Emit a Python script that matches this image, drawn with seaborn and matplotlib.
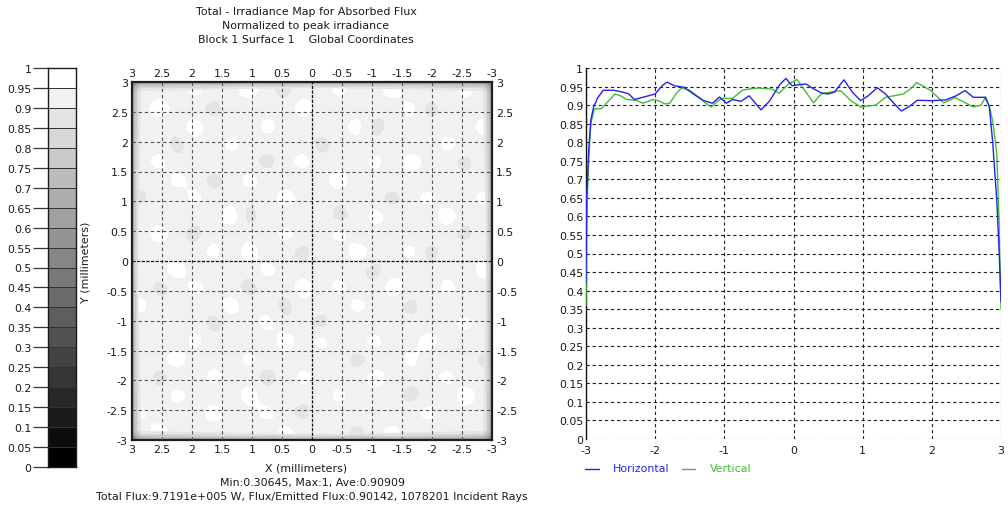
import numpy as np
import pandas as pd
import matplotlib
matplotlib.use("Agg")
import matplotlib.pyplot as plt
import seaborn as sns
from matplotlib.colors import ListedColormap
from matplotlib.lines import Line2D
from matplotlib.ticker import MultipleLocator

sns.set_theme(context="paper", style="white")
plt.rcParams["font.family"] = ["DejaVu Sans"]
plt.rcParams["axes.unicode_minus"] = False

# ---------------- data ----------------
title_lines = ["Total - Irradiance Map for Absorbed Flux",
               "Normalized to peak irradiance",
               "Block 1 Surface 1    Global Coordinates"]
stats_line = "Min:0.30645, Max:1, Ave:0.90909"
flux_line = "Total Flux:9.7191e+005 W, Flux/Emitted Flux:0.90142, 1078201 Incident Rays"

cbar_levels = [0, 0.05, 0.1, 0.15, 0.2, 0.25, 0.3, 0.35, 0.4, 0.45, 0.5,
               0.55, 0.6, 0.65, 0.7, 0.75, 0.8, 0.85, 0.9, 0.95, 1]
cbar_labels = ["1", "0.95", "0.9", "0.85", "0.8", "0.75", "0.7", "0.65", "0.6",
               "0.55", "0.5", "0.45", "0.4", "0.35", "0.3", "0.25", "0.2",
               "0.15", "0.1", "0.05", "0"]

map_ticks = [3, 2.5, 2, 1.5, 1, 0.5, 0, -0.5, -1, -1.5, -2, -2.5, -3]
map_tick_labels = ["3", "2.5", "2", "1.5", "1", "0.5", "0", "-0.5", "-1",
                   "-1.5", "-2", "-2.5", "-3"]

# interior samples of the normalized irradiance map (percent, rows top -> bottom)
map_values = [
    [93, 96, 92, 93, 92, 97, 93, 92, 96, 92, 93, 89, 92, 97, 93, 92, 96, 92, 93, 92],
    [92, 93, 92, 89, 96, 92, 92, 93, 92, 93, 97, 92, 93, 92, 92, 89, 92, 93, 97, 93],
    [97, 92, 93, 92, 93, 92, 89, 96, 93, 92, 92, 93, 96, 92, 93, 92, 97, 92, 92, 93],
    [92, 93, 96, 92, 92, 93, 92, 93, 92, 89, 93, 92, 92, 93, 96, 92, 93, 89, 93, 92],
    [93, 89, 92, 93, 97, 92, 96, 92, 93, 92, 96, 93, 89, 92, 92, 93, 92, 92, 96, 93],
    [92, 92, 93, 92, 92, 93, 92, 92, 97, 93, 92, 92, 93, 96, 92, 89, 93, 96, 92, 92],
    [96, 93, 92, 96, 93, 89, 92, 93, 92, 92, 93, 97, 92, 92, 93, 92, 96, 92, 93, 89],
    [92, 92, 97, 92, 92, 93, 96, 92, 89, 93, 92, 92, 93, 89, 97, 92, 92, 93, 92, 93],
    [93, 89, 92, 93, 92, 92, 93, 92, 96, 92, 93, 96, 92, 93, 92, 93, 89, 92, 97, 92],
    [92, 93, 92, 89, 96, 92, 93, 97, 92, 93, 89, 92, 92, 97, 92, 96, 92, 93, 92, 93],
    [97, 92, 93, 92, 92, 93, 89, 92, 93, 92, 92, 93, 96, 92, 93, 92, 92, 97, 93, 92],
    [92, 93, 96, 92, 93, 97, 92, 92, 96, 93, 97, 92, 92, 89, 92, 93, 96, 92, 89, 93],
    [93, 92, 92, 93, 89, 92, 93, 96, 92, 92, 93, 89, 93, 92, 97, 92, 92, 93, 92, 96],
    [92, 96, 93, 92, 92, 93, 92, 92, 93, 89, 92, 92, 96, 93, 92, 89, 93, 92, 93, 92],
    [93, 92, 92, 97, 93, 92, 96, 93, 92, 96, 93, 97, 92, 92, 93, 92, 96, 92, 92, 93],
    [89, 93, 92, 92, 96, 92, 92, 89, 93, 92, 92, 93, 92, 96, 92, 93, 92, 97, 93, 92],
    [92, 92, 96, 93, 92, 93, 97, 92, 92, 93, 96, 92, 89, 92, 93, 96, 92, 92, 89, 93],
    [93, 97, 92, 92, 89, 92, 93, 92, 96, 92, 92, 93, 92, 97, 92, 92, 93, 96, 92, 92],
    [92, 93, 92, 96, 93, 92, 92, 93, 92, 93, 89, 92, 96, 93, 92, 97, 92, 93, 92, 96],
    [93, 92, 93, 92, 92, 96, 93, 89, 93, 92, 93, 96, 92, 92, 93, 92, 93, 92, 97, 92],
]
# edge roll-off of the map (distance from centre -> level)
edge_dist = [3.0, 2.975, 2.94, 2.89, 2.83]
edge_level = [0.45, 0.6, 0.74, 0.85, 0.925]

# line profiles
horiz_x = [-3.00, -2.99, -2.96, -2.93, -2.89, -2.83, -2.75, -2.60, -2.47, -2.38,
           -2.30, -2.20, -2.10, -2.00, -1.90, -1.83, -1.72, -1.58, -1.45, -1.30,
           -1.17, -1.07, -0.97, -0.88, -0.76, -0.64, -0.55, -0.47, -0.35, -0.20,
           -0.11, -0.02, 0.08, 0.18, 0.28, 0.40, 0.50, 0.59, 0.73, 0.85,
           0.97, 1.08, 1.21, 1.33, 1.45, 1.56, 1.68, 1.79, 2.00, 2.20,
           2.35, 2.48, 2.60, 2.77, 2.83, 2.88, 2.94, 2.97, 3.00]
horiz_v = [0.42, 0.65, 0.78, 0.86, 0.895, 0.92, 0.94, 0.94, 0.935, 0.93,
           0.915, 0.92, 0.925, 0.93, 0.952, 0.962, 0.952, 0.948, 0.93, 0.912,
           0.905, 0.922, 0.905, 0.915, 0.91, 0.925, 0.905, 0.887, 0.91, 0.955,
           0.972, 0.952, 0.955, 0.957, 0.945, 0.933, 0.93, 0.935, 0.968, 0.935,
           0.912, 0.925, 0.947, 0.93, 0.905, 0.884, 0.897, 0.913, 0.912, 0.914,
           0.925, 0.939, 0.921, 0.921, 0.897, 0.80, 0.64, 0.52, 0.37]
vert_x = [-3.00, -2.99, -2.96, -2.93, -2.88, -2.78, -2.68, -2.58, -2.50, -2.41,
          -2.27, -2.18, -2.03, -1.95, -1.86, -1.79, -1.70, -1.62, -1.50, -1.36,
          -1.27, -1.19, -1.10, -1.04, -0.88, -0.74, -0.62, -0.50, -0.31, -0.21,
          -0.07, 0.05, 0.18, 0.29, 0.40, 0.50, 0.68, 0.83, 0.97, 1.19,
          1.33, 1.59, 1.70, 1.78, 1.98, 2.17, 2.34, 2.60, 2.71, 2.78,
          2.84, 2.88, 2.94, 2.97, 3.00]
vert_v = [0.36, 0.60, 0.76, 0.85, 0.89, 0.89, 0.91, 0.93, 0.925, 0.915,
          0.913, 0.905, 0.915, 0.912, 0.903, 0.905, 0.93, 0.946, 0.94, 0.92,
          0.905, 0.895, 0.91, 0.918, 0.918, 0.94, 0.944, 0.946, 0.943, 0.932,
          0.957, 0.969, 0.935, 0.906, 0.93, 0.934, 0.939, 0.912, 0.895, 0.90,
          0.921, 0.93, 0.945, 0.961, 0.94, 0.906, 0.92, 0.895, 0.90, 0.922,
          0.89, 0.857, 0.768, 0.60, 0.35]
line_ticks_y = [0, 0.05, 0.1, 0.15, 0.2, 0.25, 0.3, 0.35, 0.4, 0.45, 0.5,
                0.55, 0.6, 0.65, 0.7, 0.75, 0.8, 0.85, 0.9, 0.95, 1]
line_tick_labels_y = ["0", "0.05", "0.1", "0.15", "0.2", "0.25", "0.3", "0.35",
                      "0.4", "0.45", "0.5", "0.55", "0.6", "0.65", "0.7", "0.75",
                      "0.8", "0.85", "0.9", "0.95", "1"]
line_ticks_x = [-3, -2, -1, 0, 1, 2, 3]
line_tick_labels_x = ["-3", "-2", "-1", "0", "1", "2", "3"]
series_colors = {"Horizontal": "#2222f2", "Vertical": "#44bb3a"}

# ---------------- figure ----------------
W, H = 1008, 510
fig = plt.figure(figsize=(W / 100, H / 100), dpi=100)
fig.patch.set_facecolor("white")

def fx(px):
    return px / W

def fy(py):
    return 1 - py / H

FS = 7.9
TXT = "#1a1a1a"

grays = [str(k / 19) for k in range(20)]
cmap = ListedColormap(grays)
cmap.set_over("white")
cmap.set_under("black")

# colour bar drawn as a seaborn heatmap of band values
cax = fig.add_axes([fx(48), fy(468), fx(28), fy(69) - fy(468)])
band_mid = [(cbar_levels[i] + cbar_levels[i + 1]) / 2 for i in range(20)][::-1]
sns.heatmap(pd.DataFrame({"v": band_mid}), ax=cax, cmap=cmap, vmin=0, vmax=1,
            cbar=False, linewidths=0.6, linecolor="#333333",
            xticklabels=False, yticklabels=False)
cax.set_yticks(range(21))
cax.set_yticklabels(cbar_labels, rotation=0)
cax.set_xticks([])
cax.tick_params(axis="y", left=True, length=11, width=0.9, color="#333333",
                pad=1, labelsize=FS, labelcolor=TXT)
for s in cax.spines.values():
    s.set_visible(True)
    s.set_color("#1a1a1a")
    s.set_linewidth(1.0)

# irradiance map
ax = fig.add_axes([fx(132), fy(441), fx(360), fy(83) - fy(441)])
interior = np.array(map_values, dtype=float) / 100.0
ax.imshow(interior, extent=[-3, 3, -3, 3], origin="upper", cmap=cmap,
          vmin=0, vmax=1, interpolation="catrom", interpolation_stage="data",
          aspect="auto", zorder=1)
# dark roll-off at the border
ecoords = [-d for d in edge_dist] + [0.0] + edge_dist[::-1]
elev = np.array(edge_level + [1.0] + edge_level[::-1])
Zedge = np.minimum(elev[:, None] * elev[None, :] / 0.925, 0.925)
ax.contourf(ecoords, ecoords, Zedge, levels=cbar_levels[:19], colors=grays[:18],
            antialiased=True, zorder=2)
ax.set_xlim(3, -3)
ax.set_ylim(-3, 3)
ax.set_xticks(map_ticks)
ax.set_xticklabels(map_tick_labels)
ax.set_yticks(map_ticks)
ax.set_yticklabels(map_tick_labels)
ax.xaxis.set_minor_locator(MultipleLocator(0.25))
ax.yaxis.set_minor_locator(MultipleLocator(0.25))
ax.tick_params(which="major", top=True, bottom=True, left=True, right=True,
               labeltop=True, labelbottom=True, labelleft=True, labelright=True,
               length=0, pad=3, labelsize=FS, labelcolor=TXT)
ax.tick_params(which="minor", top=True, bottom=True, left=True, right=True,
               direction="in", length=2.2, width=1.0, color="#33cc33")
for v in map_ticks[1:-1]:
    if v == 0:
        continue
    ax.axvline(v, color="#555555", lw=0.8, ls=(0, (3, 2.5)), zorder=3)
    ax.axhline(v, color="#555555", lw=0.8, ls=(0, (3, 2.5)), zorder=3)
ax.axvline(0, color="#111111", lw=0.9, ls=(0, (2.5, 1.2)), zorder=3)
ax.axhline(0, color="#111111", lw=0.9, ls=(0, (2.5, 1.2)), zorder=3)
for s in ax.spines.values():
    s.set_visible(True)
    s.set_color("#1e1e1e")
    s.set_linewidth(1.6)

fig.text(fx(86), fy(262), "Y (millimeters)", rotation=90, ha="center",
         va="center", fontsize=FS, color=TXT)
fig.text(fx(306), fy(469), "X (millimeters)", ha="center", va="center",
         fontsize=FS, color=TXT)
fig.text(fx(312), fy(483), stats_line, ha="center", va="center",
         fontsize=FS, color=TXT)
fig.text(fx(312), fy(497), flux_line, ha="center", va="center",
         fontsize=FS, color=TXT)
for i, t in enumerate(title_lines):
    fig.text(fx(306), fy(12 + 14 * i), t, ha="center", va="center",
             fontsize=FS, color=TXT)

# line profiles
ax2 = fig.add_axes([fx(586), fy(440), fx(415), fy(69) - fy(440)])
df = pd.concat([
    pd.DataFrame({"x": vert_x, "v": vert_v, "series": "Vertical"}),
    pd.DataFrame({"x": horiz_x, "v": horiz_v, "series": "Horizontal"}),
], ignore_index=True)
sns.lineplot(data=df, x="x", y="v", hue="series", palette=series_colors,
             hue_order=["Vertical", "Horizontal"], estimator=None,
             legend=False, lw=1.0, ax=ax2, zorder=4)
ax2.set_xlim(-3, 3)
ax2.set_ylim(0, 1)
ax2.set_xticks(line_ticks_x)
ax2.set_xticklabels(line_tick_labels_x)
ax2.set_yticks(line_ticks_y)
ax2.set_yticklabels(line_tick_labels_y)
ax2.set_xlabel("")
ax2.set_ylabel("")
ax2.tick_params(length=0, pad=4, labelsize=FS, labelcolor=TXT)
ax2.tick_params(axis="y", pad=2)
ax2.grid(True, color="#222222", lw=0.8, ls=(0, (3, 2.5)))
ax2.set_axisbelow(True)
for k, s in ax2.spines.items():
    s.set_visible(k == "left")
ax2.spines["left"].set_color("#111111")
ax2.spines["left"].set_linewidth(1.0)

# legend under the profile plot
leg = [("Horizontal", 585, 599, 613), ("Vertical", 682, 695, 710)]
for name, x0, x1, xt in leg:
    fig.add_artist(Line2D([fx(x0), fx(x1)], [fy(470), fy(470)],
                          transform=fig.transFigure,
                          color=series_colors[name], lw=1.0))
    fig.text(fx(xt), fy(469), name, ha="left", va="center", fontsize=FS,
             color=series_colors[name])

fig.savefig("out.png", dpi=100, facecolor="white")
